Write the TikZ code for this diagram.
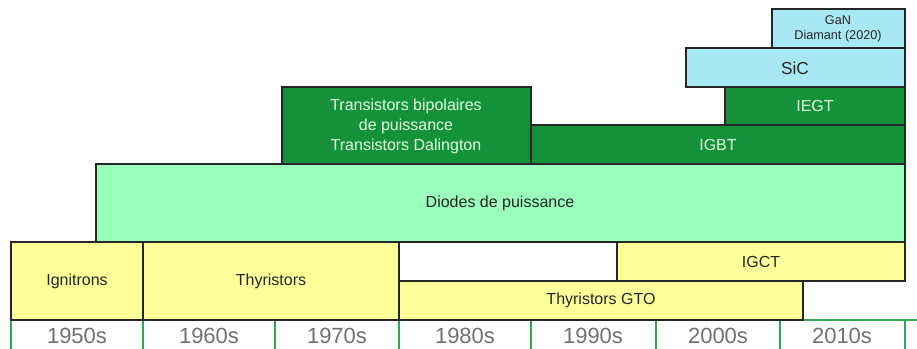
\documentclass[tikz,border=0pt]{standalone}
\usepackage{fontspec}
\setmainfont{Liberation Sans}

\definecolor{yellowfill}{HTML}{FFFF99}
\definecolor{mintfill}{HTML}{99FFBB}
\definecolor{darkgreenfill}{HTML}{14923A}
\definecolor{greentext}{HTML}{E2FFE2}
\definecolor{bluefill}{HTML}{A8E8F2}
\definecolor{yeartext}{HTML}{707070}
\definecolor{gridgreen}{HTML}{2FA84F}

\tikzset{
  boxline/.style={draw=black!85, line width=1.2pt},
  boxtext/.style={inner sep=0.75pt, align=center, font=\fontsize{12}{15}\selectfont},
  yeartxt/.style={inner sep=0.75pt, text=yeartext, font=\fontsize{16.5}{18}\selectfont},
}

\begin{document}
\begin{tikzpicture}[x=0.75pt,y=0.75pt,yscale=-1,xscale=1]
		\useasboundingbox (0,0) rectangle (917,349);
		
		%Year row
		\draw [gridgreen, line width=1.2pt]   (11,320) -- (917,320) ;
		\foreach \xd in {11,143,275,399,531,656,780,905}
		  \draw [gridgreen, line width=1.2pt]   (\xd,320) -- (\xd,349) ;
		
		%Shape: Rectangle Ignitrons
		\draw [boxline, fill=yellowfill]   (11,242) -- (143,242) -- (143,320) -- (11,320) -- cycle ;
		%Shape: Rectangle Thyristors
		\draw [boxline, fill=yellowfill]   (143,242) -- (399,242) -- (399,320) -- (143,320) -- cycle ;
		%Shape: Rectangle IGCT
		\draw [boxline, fill=yellowfill]   (617,242) -- (905,242) -- (905,281) -- (617,281) -- cycle ;
		%Shape: Rectangle Thyristors GTO
		\draw [boxline, fill=yellowfill]   (399,281) -- (803,281) -- (803,320) -- (399,320) -- cycle ;
		%Shape: Rectangle Diodes
		\draw [boxline, fill=mintfill]   (96,164) -- (905,164) -- (905,242) -- (96,242) -- cycle ;
		%Shape: Rectangle Transistors
		\draw [boxline, fill=darkgreenfill]   (282,87) -- (531,87) -- (531,164) -- (282,164) -- cycle ;
		%Shape: Rectangle IGBT
		\draw [boxline, fill=darkgreenfill]   (531,125) -- (905,125) -- (905,164) -- (531,164) -- cycle ;
		%Shape: Rectangle IEGT
		\draw [boxline, fill=darkgreenfill]   (725,87) -- (905,87) -- (905,125) -- (725,125) -- cycle ;
		%Shape: Rectangle SiC
		\draw [boxline, fill=bluefill]   (686,48) -- (905,48) -- (905,87) -- (686,87) -- cycle ;
		%Shape: Rectangle GaN
		\draw [boxline, fill=bluefill]   (772,9) -- (905,9) -- (905,48) -- (772,48) -- cycle ;
		
		% Text Node
		\draw (77,281) node (ignitrons) [boxtext, text=black!85] {Ignitrons};
		% Text Node
		\draw (271,281) node (thyristors) [boxtext, text=black!85] {Thyristors};
		% Text Node
		\draw (761,262) node (igct) [boxtext, text=black!85] {IGCT};
		% Text Node
		\draw (601,300) node (gto) [boxtext, text=black!85] {Thyristors GTO};
		% Text Node
		\draw (500,203) node (diodes) [boxtext, text=black!85] {Diodes de puissance};
		% Text Node
		\draw (406,126) node (bipolaires) [boxtext, text=greentext] {Transistors bipolaires\\de puissance\\Transistors Dalington};
		% Text Node
		\draw (718,145) node (igbt) [boxtext, text=greentext] {IGBT};
		% Text Node
		\draw (815,106) node (iegt) [boxtext, text=greentext] {IEGT};
		% Text Node
		\draw (795,68) node (sic) [boxtext, text=black!85, font=\fontsize{13}{15}\selectfont] {SiC};
		% Text Node
		\draw (838,29) node (gan) [boxtext, text=black!85, font=\fontsize{9.5}{11.5}\selectfont] {GaN\\Diamant (2020)};
		
		% Year labels
		\draw (77,336) node (y1950) [yeartxt] {1950s};
		\draw (209,336) node (y1960) [yeartxt] {1960s};
		\draw (337,336) node (y1970) [yeartxt] {1970s};
		\draw (465,336) node (y1980) [yeartxt] {1980s};
		\draw (593,336) node (y1990) [yeartxt] {1990s};
		\draw (718,336) node (y2000) [yeartxt] {2000s};
		\draw (842,336) node (y2010) [yeartxt] {2010s};
		
		
		\end{tikzpicture}
\end{document}
